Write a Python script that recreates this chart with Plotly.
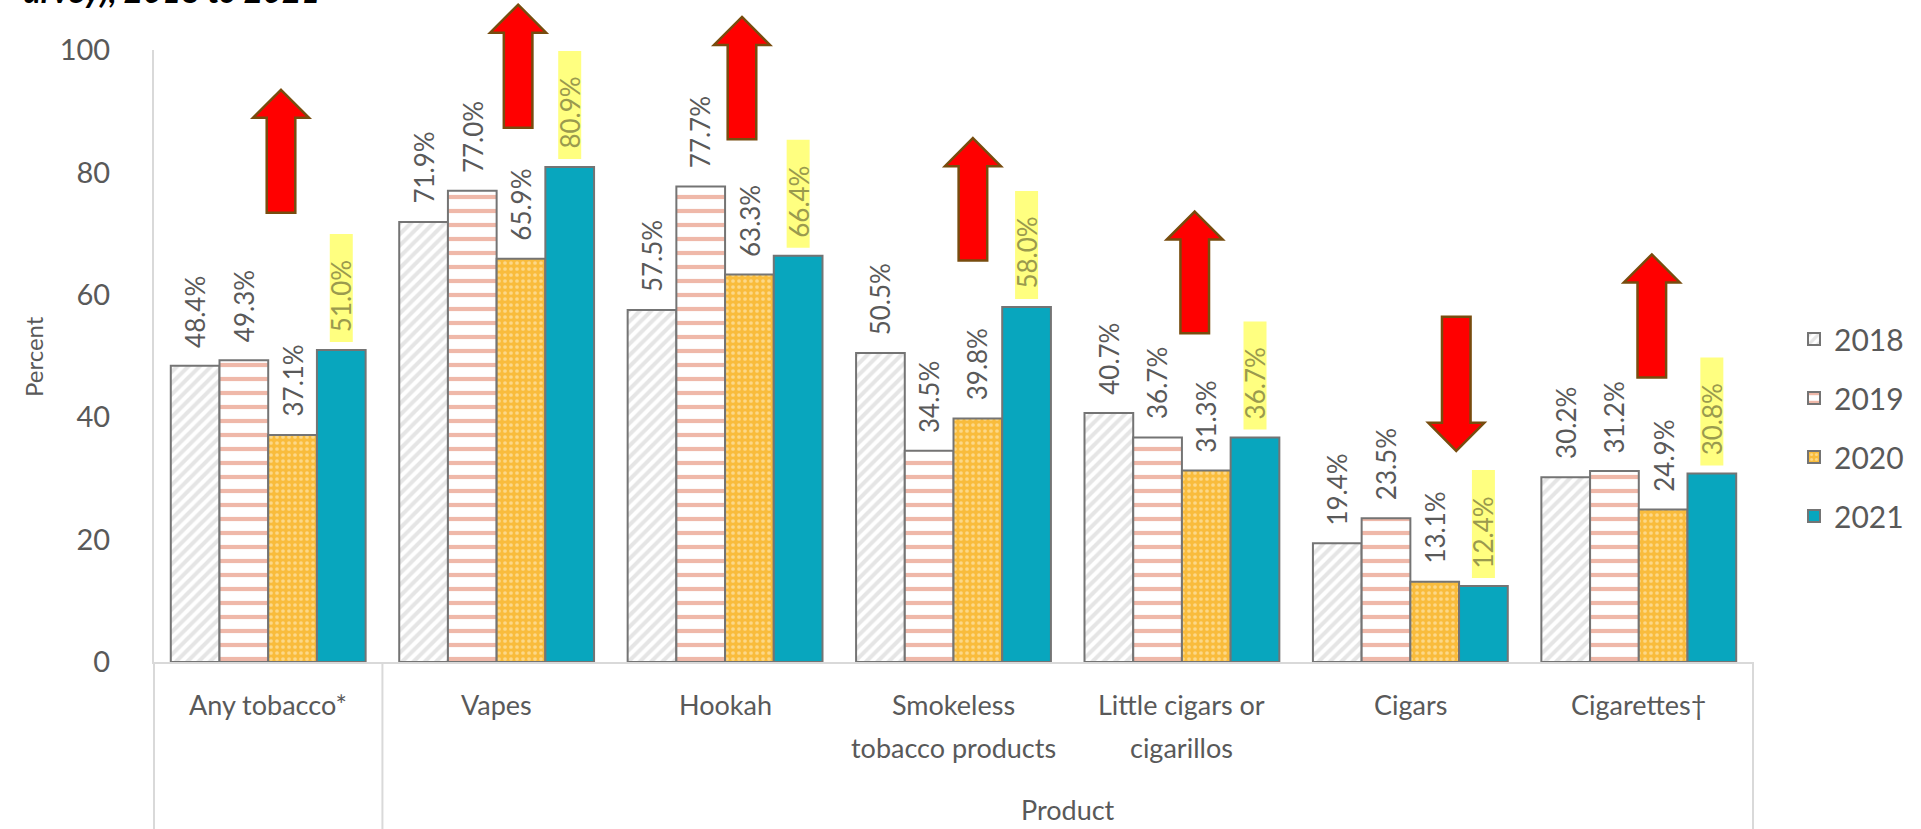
import plotly.graph_objects as go

# ---- data -------------------------------------------------------------
products = [
    ["Any tobacco*"],
    ["Vapes"],
    ["Hookah"],
    ["Smokeless", "tobacco products"],
    ["Little cigars or", "cigarillos"],
    ["Cigars"],
    ["Cigarettes\u2020"],
]
years = ["2018", "2019", "2020", "2021"]
v2018 = [48.4, 71.9, 57.5, 50.5, 40.7, 19.4, 30.2]
v2019 = [49.3, 77.0, 77.7, 34.5, 36.7, 23.5, 31.2]
v2020 = [37.1, 65.9, 63.3, 39.8, 31.3, 13.1, 24.9]
v2021 = [51.0, 80.9, 66.4, 58.0, 36.7, 12.4, 30.8]
y_ticks = [0, 20, 40, 60, 80, 100]

# trend arrows: (category index, x offset in category units, tip value, tail value)
trend_arrows = [
    (0, 0.056, 93.5, 73.4),
    (1, 0.094, 107.4, 87.3),
    (2, 0.074, 105.4, 85.4),
    (3, 0.085, 85.6, 65.6),
    (4, 0.056, 73.6, 53.7),
    (5, 0.201, 34.5, 56.4),
    (6, 0.057, 66.6, 46.5),
]

# ---- styling ----------------------------------------------------------
W, H = 1921, 829
ML, MR, MT, MB = 154, 168, 50, 167
PW, PH = W - ML - MR, H - MT - MB
FONT = "Lato, 'Open Sans', Arial, sans-serif"
GREY_TXT = "#595959"
AXIS_GREY = "#D9D9D9"
EDGE = "#747474"
BARGAP = 0.147
N = len(products)

series = [v2018, v2019, v2020, v2021]
patterns = [
    dict(shape="/", fgcolor="#CCCCCC", bgcolor="#FFFFFF", size=8, solidity=0.5),
    dict(shape="-", fgcolor="#DF7253", bgcolor="#FFFFFF", size=14, solidity=0.3),
    dict(shape=".", fgcolor="#FFF3D6", bgcolor="#F9BC3C", size=6, solidity=0.3),
    dict(shape="", fgcolor="#08A6BE", bgcolor="#08A6BE"),
]
colors = ["#FFFFFF", "#FFFFFF", "#F9BC3C", "#08A6BE"]

fig = go.Figure()
xs = list(range(N))
for j, (yr, vals) in enumerate(zip(years, series)):
    fig.add_trace(go.Bar(
        x=xs, y=vals, name=yr, legendgroup=yr,
        marker=dict(color=colors[j], pattern=patterns[j],
                    line=dict(color=EDGE, width=2)),
        hoverinfo="skip",
    ))

annotations = []
shapes = []
bw = (1 - BARGAP) / len(years)

# value labels above each bar; the 2021 labels are highlighted
for j, vals in enumerate(series):
    for i, v in enumerate(vals):
        bx = i + (j - 1.5) * bw
        hl = j == len(years) - 1
        if hl:
            shapes.append(dict(
                type="rect", xref="x", yref="y", layer="below",
                xsizemode="pixel", ysizemode="pixel",
                xanchor=bx, yanchor=v, x0=-11.5, x1=11.5, y0=8, y1=116,
                fillcolor="#FFFF80", line=dict(width=0),
            ))
        annotations.append(dict(
            x=bx, y=v, xref="x", yref="y", text=f"{v:.1f}%",
            textangle=-90, showarrow=False, xanchor="center", yanchor="bottom",
            yshift=16, font=dict(family=FONT, size=26,
                                 color="#9A9A4E" if hl else GREY_TXT),
        ))

# category labels (multi-line, fixed spacing)
for i, lines in enumerate(products):
    for k, line in enumerate(lines):
        annotations.append(dict(
            x=i, y=0, xref="x", yref="paper", text=line, showarrow=False,
            xanchor="center", yanchor="middle", yshift=-42 - 43 * k,
            font=dict(family=FONT, size=27, color=GREY_TXT),
        ))
annotations.append(dict(
    x=(1 + N - 1) / 2, y=0, xref="x", yref="paper", text="Product",
    showarrow=False, xanchor="center", yanchor="middle", yshift=-147,
    font=dict(family=FONT, size=27, color=GREY_TXT),
))
annotations.append(dict(
    x=(33 - ML) / PW, y=0.5, xref="paper", yref="paper", text="Percent",
    textangle=-90, showarrow=False, xanchor="center", yanchor="middle",
    font=dict(family=FONT, size=24, color=GREY_TXT),
))
annotations.append(dict(
    x=(322 - ML) / PW, y=(PH + MT - 12) / PH, xref="paper", yref="paper",
    text="<b><i>urvey), 2018 to 2021</i></b>", showarrow=False,
    xanchor="right", yanchor="bottom",
    font=dict(family=FONT, size=33, color="#000000"),
))

# category group dividers below the axis
for xp in [0, 1 / N, 1]:
    shapes.append(dict(
        type="line", xref="paper", yref="paper", x0=xp, x1=xp,
        y0=0, y1=-MB / PH, line=dict(color=AXIS_GREY, width=2),
    ))

# block arrows marking the direction of change
HEAD_L, HEAD_HW, SHAFT_HW = 28, 28, 14.3
for cat, dx, tip, tail in trend_arrows:
    cx = (cat + 0.5 + dx) / N
    ty, tl = tip / 100, tail / 100
    sgn = 1 if tip > tail else -1
    hy = ty - sgn * HEAD_L / PH
    hw, sw = HEAD_HW / PW, SHAFT_HW / PW
    path = (f"M{cx},{ty} L{cx + hw},{hy} L{cx + sw},{hy} L{cx + sw},{tl} "
            f"L{cx - sw},{tl} L{cx - sw},{hy} L{cx - hw},{hy} Z")
    shapes.append(dict(type="path", xref="paper", yref="paper", path=path,
                       fillcolor="#FF0000", line=dict(color="#774C0E", width=2.5),
                       layer="above"))

fig.update_layout(
    width=W, height=H,
    margin=dict(l=ML, r=MR, t=MT, b=MB, pad=0),
    paper_bgcolor="#FFFFFF", plot_bgcolor="#FFFFFF",
    barmode="group", bargap=BARGAP, bargroupgap=0,
    font=dict(family=FONT, color=GREY_TXT),
    showlegend=True,
    legend=dict(
        x=(1794 - ML) / PW, xanchor="left", y=(PH + MT - 313) / PH, yanchor="top",
        font=dict(family=FONT, size=30, color=GREY_TXT),
        tracegroupgap=17, bgcolor="rgba(0,0,0,0)", traceorder="grouped",
    ),
    xaxis=dict(range=[-0.5, N - 0.5], showticklabels=False, showgrid=False,
               zeroline=False, showline=True, linecolor=AXIS_GREY, linewidth=2,
               ticks="", fixedrange=True),
    yaxis=dict(range=[0, 100], tickvals=y_ticks, showgrid=False, zeroline=False,
               showline=True, linecolor=AXIS_GREY, linewidth=2, ticks="",
               ticklabelstandoff=36,
               tickfont=dict(family=FONT, size=29, color=GREY_TXT),
               fixedrange=True),
    annotations=annotations,
    shapes=shapes,
)

fig.write_html("out.html")
